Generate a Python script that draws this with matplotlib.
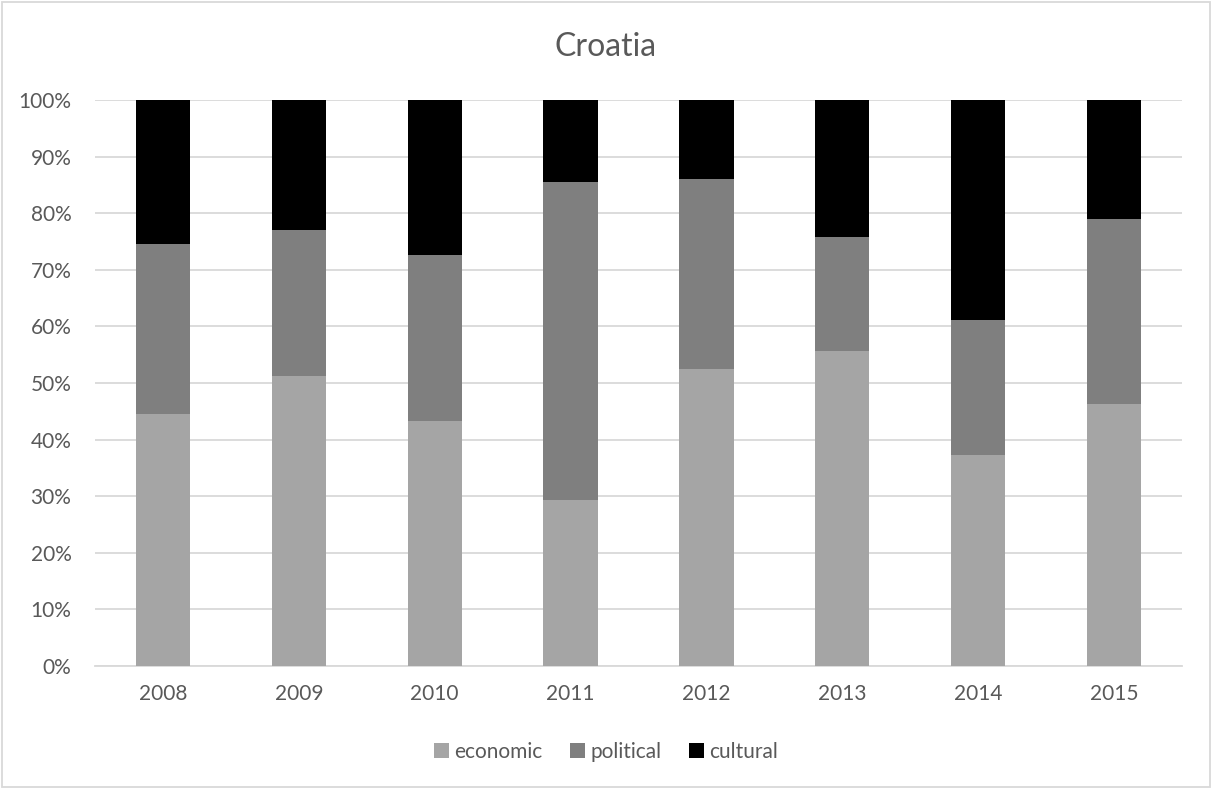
import matplotlib.pyplot as plt
import numpy as np
from matplotlib.patches import Rectangle

plt.rcParams["font.family"] = ["Lato", "DejaVu Sans"]

years = ["2008", "2009", "2010", "2011", "2012", "2013", "2014", "2015"]
economic = [44.5, 51.2, 43.3, 29.4, 52.4, 55.7, 37.3, 46.3]
political = [30.1, 25.8, 29.3, 56.1, 33.6, 20.1, 23.8, 32.7]
cultural = [25.4, 23.0, 27.4, 14.5, 14.0, 24.2, 38.9, 21.0]

series = [("economic", economic, "#A5A5A5"),
          ("political", political, "#7F7F7F"),
          ("cultural", cultural, "#000000")]

text_col = "#595959"
grid_col = "#D9D9D9"

fig = plt.figure(figsize=(12.12, 7.89), dpi=100)
ax = fig.add_axes([95 / 1212, 1 - 666 / 789, (1182 - 95) / 1212, (666 - 100) / 789])

x = np.arange(len(years))
bottom = np.zeros(len(years))
for name, vals, col in series:
    vals = np.array(vals)
    ax.bar(x, vals, 0.4, bottom=bottom, color=col, label=name, zorder=3, linewidth=0)
    bottom += vals

ax.set_xlim(-0.5, len(years) - 0.5)
ax.set_ylim(0, 100)
ax.set_yticks(np.arange(0, 101, 10))
ax.set_yticklabels([f"{v}%" for v in range(0, 101, 10)])
ax.set_xticks(x)
ax.set_xticklabels(years)
ax.tick_params(length=0, labelsize=15, colors=text_col)
ax.tick_params(axis="y", pad=17)
ax.tick_params(axis="x", pad=13)
ax.yaxis.grid(True, color=grid_col, linewidth=1.3, zorder=0)
for s in ["top", "right", "left"]:
    ax.spines[s].set_visible(False)
ax.spines["bottom"].set_color(grid_col)
ax.spines["bottom"].set_linewidth(1.3)

fig.text(0.5, 1 - 47 / 789, "Croatia", ha="center", va="center", fontsize=23, color=text_col)

fig.legend(loc="center", bbox_to_anchor=(0.5, 1 - 752 / 789), ncol=3, frameon=False,
           fontsize=15, labelcolor=text_col, handlelength=0.75, handleheight=0.75,
           handletextpad=0.25, columnspacing=1.3)

# chart area border
fig.patches.append(Rectangle((2 / 1212, 2 / 789), 1 - 4 / 1212, 1 - 4 / 789,
                             transform=fig.transFigure, fill=False,
                             edgecolor=grid_col, linewidth=1.3))

fig.savefig("out.png", dpi=100)
